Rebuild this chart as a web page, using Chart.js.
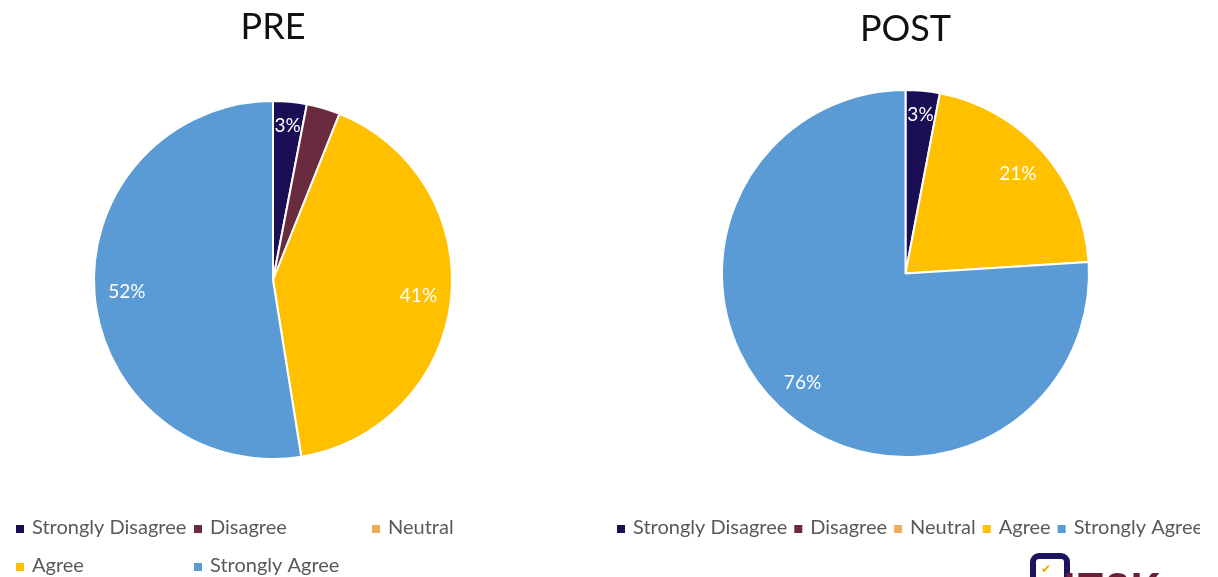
<!DOCTYPE html>
<html>
<head>
<meta charset="utf-8">
<script src="https://cdn.jsdelivr.net/npm/chart.js@4.4.1/dist/chart.umd.min.js"></script>
<style>
  html, body { margin: 0; padding: 0; background: #fff; width: 1218px; height: 577px; overflow: hidden; position: relative; }
  #pre { position: absolute; left: 0; top: 0; }
  #post { position: absolute; left: 580px; top: 0; }
  .logo { position: absolute; left: 1030px; top: 553px; width: 160px; height: 40px; }
  .logo .frame { position: absolute; left: 0; top: 0; width: 40px; height: 40px; border: 6px solid #1b1560; border-radius: 9px 9px 0 0; box-sizing: border-box; }
  .logo .tick { position: absolute; left: 11px; top: 9px; font: bold 12px "DejaVu Sans"; color: #e8a800; }
  .logo .brand { position: absolute; left: 33px; top: 14px; font: 900 42px Lato, "DejaVu Sans"; color: #6a1f35; letter-spacing: 2px; line-height: 1; }
</style>
</head>
<body>
<canvas id="pre" width="560" height="577"></canvas>
<canvas id="post" width="620" height="577"></canvas>
<div class="logo"><div class="frame"></div><span class="tick">✔</span><span class="brand">ITSK</span></div>

<script>
// Response categories and their slice colours
const categories = ['Strongly Disagree', 'Disagree', 'Neutral', 'Agree', 'Strongly Agree'];
const sliceColors = ['#1b0e54', '#6a2b3f', '#eead58', '#ffc000', '#5b9bd5'];

// Percentages per category
const preValues  = [3, 3, 0, 41, 52];
const postValues = [3, 0, 0, 21, 76];

// Which slices carry a percentage label
const preLabelShown  = [true, false, false, true, true];
const postLabelShown = [true, false, false, true, true];

const FONT = 'Lato, "Open Sans", sans-serif';

// Percentage labels placed just inside the outer edge of each slice
const sliceLabels = {
  id: 'sliceLabels',
  afterDatasetsDraw(chart, args, opts) {
    const ctx = chart.ctx;
    const meta = chart.getDatasetMeta(0);
    const data = chart.data.datasets[0].data;
    ctx.save();
    ctx.font = '19px ' + FONT;
    ctx.fillStyle = '#ffffff';
    ctx.textAlign = 'center';
    ctx.textBaseline = 'middle';
    meta.data.forEach((arc, i) => {
      if (!opts.shown[i] || !data[i]) return;
      const p = arc.getProps(['x', 'y', 'startAngle', 'endAngle', 'outerRadius'], true);
      const mid = (p.startAngle + p.endAngle) / 2;
      const text = data[i] + '%';
      const w = ctx.measureText(text).width;
      const h = 20;
      const c = Math.cos(mid), s = Math.sin(mid);
      const extent = Math.abs(c) * w / 2 + Math.abs(s) * h / 2;
      const r = p.outerRadius - 13 - extent;
      ctx.fillText(text, p.x + c * r, p.y + s * r);
    });
    ctx.restore();
  }
};

// Legend drawn below each pie, either on a column grid or as a single flowing row
const bottomLegend = {
  id: 'bottomLegend',
  afterDraw(chart, args, opts) {
    const ctx = chart.ctx;
    const labels = chart.data.labels;
    const colors = chart.data.datasets[0].backgroundColor;
    ctx.save();
    ctx.font = '20px ' + FONT;
    ctx.textBaseline = 'middle';
    ctx.textAlign = 'left';
    let fx = opts.x;
    labels.forEach((label, i) => {
      let x, y;
      if (opts.columns) {
        x = opts.x + (i % opts.columns) * opts.colWidth;
        y = opts.y + Math.floor(i / opts.columns) * opts.rowHeight;
      } else {
        x = fx;
        y = opts.y;
      }
      ctx.fillStyle = colors[i];
      ctx.fillRect(x, y - 3, 8, 8);
      ctx.fillStyle = '#595959';
      ctx.fillText(label, x + 16, y);
      fx = x + 16 + ctx.measureText(label).width + (opts.gap || 12);
    });
    ctx.restore();
  }
};

function makePie(id, values, shown, padding, title, titlePadding, legendOpts) {
  return new Chart(document.getElementById(id), {
    type: 'pie',
    data: {
      labels: categories,
      datasets: [{
        data: values,
        backgroundColor: sliceColors,
        borderColor: '#ffffff',
        borderWidth: 2
      }]
    },
    options: {
      responsive: false,
      animation: false,
      layout: { padding: padding },
      plugins: {
        legend: { display: false },
        tooltip: { enabled: false },
        title: {
          display: true,
          text: title,
          color: '#111111',
          font: { family: FONT, size: 36, weight: 'normal' },
          padding: titlePadding
        },
        sliceLabels: { shown: shown },
        bottomLegend: legendOpts
      }
    },
    plugins: [sliceLabels, bottomLegend]
  });
}

function drawAll() {
  makePie('pre', preValues, preLabelShown,
    { left: 93, right: 107, top: 0, bottom: 117 },
    'PRE', { top: 6, bottom: 50.8 },
    { x: 16, y: 528, columns: 3, colWidth: 178, rowHeight: 38 });

  makePie('post', postValues, postLabelShown,
    { left: 141, right: 110, top: 0, bottom: 119 },
    'POST', { top: 8, bottom: 37.8 },
    { x: 37, y: 528, gap: 7 });
}

Promise.all([document.fonts.load('20px Lato'), document.fonts.load('36px Lato')])
  .then(drawAll, drawAll);
</script>
</body>
</html>
